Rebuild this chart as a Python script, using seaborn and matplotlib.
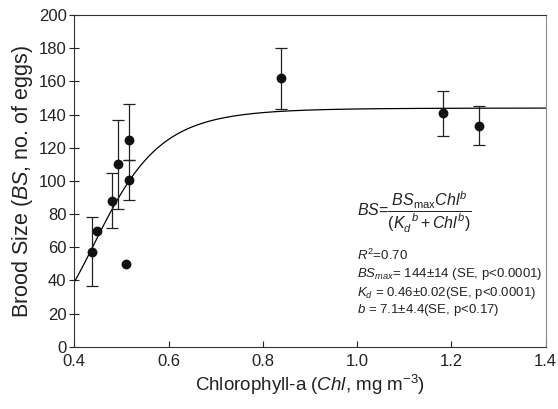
import numpy as np
import pandas as pd
import matplotlib
matplotlib.use("Agg")
import matplotlib.pyplot as plt
import seaborn as sns

# Observations
chl = [0.438, 0.449, 0.480, 0.493, 0.510, 0.516, 0.516, 0.838, 1.183, 1.258]
brood = [57.4, 69.7, 88.0, 110.0, 50.0, 124.7, 100.6, 162.0, 140.8, 133.3]
err_low = [20.7, 0.0, 16.5, 27.0, 0.0, 12.0, 12.2, 18.5, 13.8, 11.8]
err_high = [20.6, 0.0, 17.0, 26.7, 0.0, 21.7, 12.0, 18.0, 13.2, 11.7]

# Fitted model parameters (as reported on the chart)
bs_max = 144.0
kd = 0.46
b_exp = 7.1

x_ticks = [0.4, 0.6, 0.8, 1.0, 1.2, 1.4]
y_ticks = [0, 20, 40, 60, 80, 100, 120, 140, 160, 180, 200]

sns.set_theme(style="ticks")
plt.rcParams['font.family'] = ['Liberation Sans', 'DejaVu Sans']
plt.rcParams['mathtext.fontset'] = 'custom'
plt.rcParams['mathtext.rm'] = 'Liberation Sans'
plt.rcParams['mathtext.it'] = 'Liberation Sans:italic'
plt.rcParams['mathtext.bf'] = 'Liberation Sans:bold'

fig = plt.figure(figsize=(5.58, 4.09), dpi=100)
ax = fig.add_axes([0.133, 0.152, 0.845, 0.811])

df = pd.DataFrame({"chl": chl, "bs": brood})
xc = np.linspace(0.4, 1.4, 300)
curve = pd.DataFrame({"chl": xc, "bs": bs_max * xc**b_exp / (kd**b_exp + xc**b_exp)})

sns.lineplot(data=curve, x="chl", y="bs", ax=ax, color="black", lw=0.9)

mask = [(lo + hi) > 0 for lo, hi in zip(err_low, err_high)]
ex = [c for c, m in zip(chl, mask) if m]
ey = [v for v, m in zip(brood, mask) if m]
elo = [v for v, m in zip(err_low, mask) if m]
ehi = [v for v, m in zip(err_high, mask) if m]
ax.errorbar(ex, ey, yerr=[elo, ehi], fmt="none", ecolor="#222222",
            elinewidth=0.9, capsize=4, capthick=0.9, zorder=2)

sns.scatterplot(data=df, x="chl", y="bs", ax=ax, color="#111111", s=50,
                edgecolor="#111111", linewidth=0, zorder=3)

ax.set_xlim(0.4, 1.4)
ax.set_ylim(0, 200)
ax.set_xticks(x_ticks)
ax.set_xticklabels([f"{t:.1f}" for t in x_ticks])
ax.set_yticks(y_ticks)
ax.tick_params(axis='y', direction='inout', length=7, width=0.8, labelsize=12, colors='#222222', pad=2)
ax.tick_params(axis='x', direction='in', length=4, width=0.8, labelsize=12, colors='#222222', pad=5)

for side in ['left', 'bottom', 'top']:
    ax.spines[side].set_visible(True)
    ax.spines[side].set_linewidth(0.8)
    ax.spines[side].set_color('#333333')
ax.spines['right'].set_linewidth(0.8)
ax.spines['right'].set_color('#888888')

ax.set_xlabel(r"Chlorophyll-a ($\mathit{Chl}$, mg m$^{-3}$)", fontsize=13.5, color='#222222', labelpad=3)
ax.set_ylabel(r"Brood Size ($\mathit{BS}$, no. of eggs)", fontsize=15.5, color='#222222', labelpad=3)

ax.text(0.6, 0.405, r"$\mathit{BS}$=$\dfrac{\mathit{BS}_{\mathrm{max}}\mathit{Chl}^{b}}{(\mathit{K}_{d}^{\ \ b}+\mathit{Chl}^{b})}$",
        transform=ax.transAxes, fontsize=11.5, ha='left', va='center', color='#222222')

lines = [
    r"$\mathit{R}^{2}$=0.70",
    r"$\mathit{BS}_{\mathit{max}}$= 144$\pm$14 (SE, p<0.0001)",
    r"$\mathit{K}_{d}$ = 0.46$\pm$0.02(SE, p<0.0001)",
    r"$\mathit{b}$ = 7.1$\pm$4.4(SE, p<0.17)",
]
ys = [0.277, 0.220, 0.163, 0.111]
for t, yv in zip(lines, ys):
    ax.text(0.6, yv, t, transform=ax.transAxes, fontsize=9.5, ha='left', va='center', color='#222222')

fig.savefig("out.png", dpi=100)
